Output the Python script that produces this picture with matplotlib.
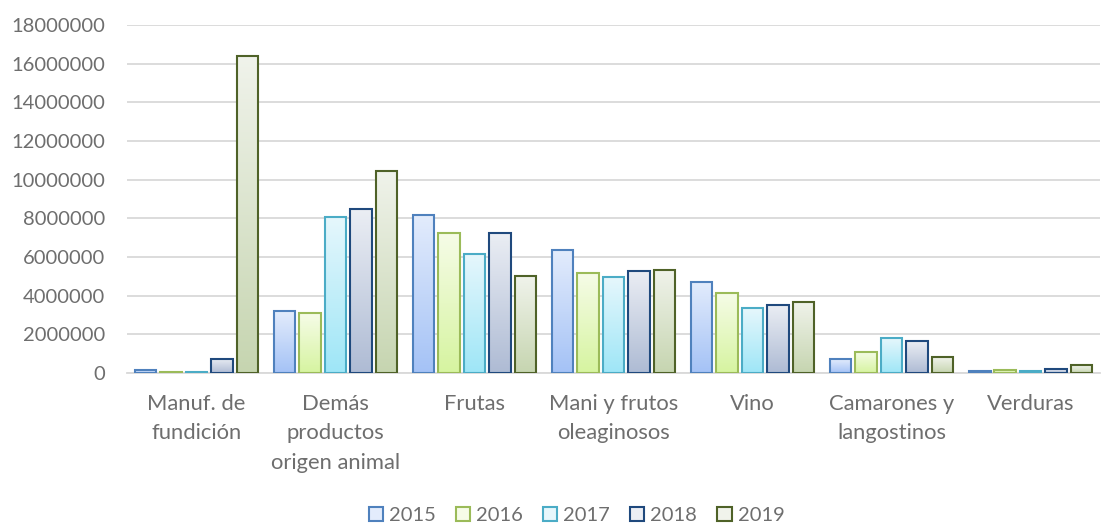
import numpy as np
import matplotlib.pyplot as plt
from matplotlib.colors import LinearSegmentedColormap
from matplotlib.patches import Patch

plt.rcParams['font.family'] = ['Lato', 'DejaVu Sans']

categories = ["Manuf. de\nfundición", "Demás\nproductos\norigen animal", "Frutas",
              "Mani y frutos\noleaginosos", "Vino", "Camarones y\nlangostinos", "Verduras"]
years = ["2015", "2016", "2017", "2018", "2019"]

v2015 = [150000, 3200000, 8200000, 6350000, 4730000, 720000, 80000]
v2016 = [30000, 3100000, 7250000, 5200000, 4160000, 1100000, 170000]
v2017 = [50000, 8080000, 6150000, 4950000, 3350000, 1810000, 80000]
v2018 = [750000, 8480000, 7250000, 5300000, 3540000, 1640000, 200000]
v2019 = [16400000, 10470000, 5000000, 5350000, 3680000, 810000, 400000]
series = [v2015, v2016, v2017, v2018, v2019]

edges = ["#4F81BD", "#9BBB59", "#4BACC6", "#1F497D", "#4F6228"]
tops = ["#E3ECFC", "#F6FCE8", "#E6F7FC", "#EBEEF4", "#F0F3EB"]
bottoms = ["#A4C2F6", "#D6F4A0", "#9EE6F7", "#AEBBD4", "#C6D5B0"]
txt = "#6E6E6E"

fig = plt.figure(figsize=(11.09, 5.25), dpi=100)
ax = fig.add_axes([0.1145, 0.2895, 0.8775, 0.6625])

x = np.arange(len(categories))
step = 0.183
width = 0.155
grad = np.linspace(0, 1, 256).reshape(-1, 1)

for i, vals in enumerate(series):
    cmap = LinearSegmentedColormap.from_list("g%d" % i, [bottoms[i], tops[i]])
    pos = x + (i - 2) * step
    bars = ax.bar(pos, vals, width, facecolor="none", edgecolor=edges[i], linewidth=1.5, zorder=4)
    for b in bars:
        h = b.get_height()
        if h <= 0:
            continue
        im = ax.imshow(grad, cmap=cmap, aspect="auto", origin="lower",
                       extent=[b.get_x(), b.get_x() + b.get_width(), 0, h], zorder=3)
        im.set_clip_path(b)

ax.set_xlim(-0.5, len(categories) - 0.5)
ax.set_ylim(0, 18000000)
ax.set_yticks(np.arange(0, 18000001, 2000000))
ax.set_yticklabels([str(v) for v in range(0, 18000001, 2000000)])
ax.yaxis.grid(True, color="#D9D9D9", linewidth=1.3, zorder=0)
ax.set_axisbelow(True)
ax.set_xticks(x)
ax.set_xticklabels(categories, va="top", linespacing=1.6, fontsize=15.8)
for s in ["top", "right", "left"]:
    ax.spines[s].set_visible(False)
ax.spines["bottom"].set_color("#D9D9D9")
ax.spines["bottom"].set_linewidth(1.3)
ax.tick_params(axis="y", length=0, labelsize=14.5, colors=txt, pad=16)
ax.tick_params(axis="x", length=0, colors=txt, pad=15)

handles = [Patch(facecolor=tops[i], edgecolor=edges[i], linewidth=1.5, label=years[i])
           for i in range(5)]
fig.legend(handles=handles, loc="center", ncol=5, frameon=False, fontsize=14.5,
           bbox_to_anchor=(0.52, 0.018), handlelength=0.7, handleheight=0.7,
           handletextpad=0.3, columnspacing=1.0, labelcolor=txt)

fig.savefig("out.png", dpi=100)
